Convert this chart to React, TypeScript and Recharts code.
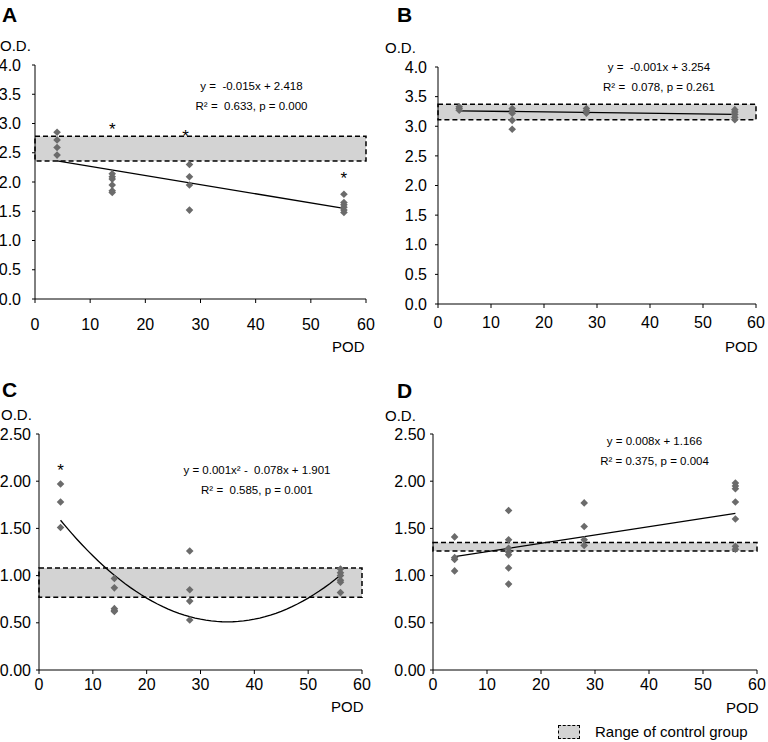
import { ScatterChart, Scatter, XAxis, YAxis, ReferenceArea } from "recharts";

// days post-operation where samples were taken
const POD = [4, 14, 28, 56];
const X_TICKS = [0, 10, 20, 30, 40, 50, 60];

// O.D. readings per sampling day
const A_OD = [
  [2.85, 2.72, 2.59, 2.46],
  [2.14, 2.09, 2.05, 1.95, 1.85, 1.82],
  [2.3, 2.09, 1.95, 1.52],
  [1.79, 1.65, 1.61, 1.57, 1.52, 1.48],
];
const B_OD = [
  [3.33, 3.3, 3.27],
  [3.3, 3.26, 3.22, 3.1, 2.95],
  [3.3, 3.26, 3.22],
  [3.28, 3.24, 3.2, 3.15, 3.11],
];
const C_OD = [
  [1.97, 1.78, 1.51],
  [0.97, 0.87, 0.65, 0.63, 0.62],
  [1.26, 0.85, 0.73, 0.53],
  [1.07, 1.03, 1.0, 0.95, 0.93, 0.82],
];
const D_OD = [
  [1.41, 1.19, 1.17, 1.05],
  [1.69, 1.38, 1.29, 1.25, 1.22, 1.08, 0.91],
  [1.77, 1.52, 1.38, 1.32],
  [1.98, 1.95, 1.92, 1.78, 1.6, 1.31, 1.28],
];

// control group range [low, high]
const A_RANGE = [2.36, 2.78];
const B_RANGE = [3.11, 3.37];
const C_RANGE = [0.77, 1.08];
const D_RANGE = [1.26, 1.35];

// trend lines (end points as drawn)
const A_FIT = [[4, 2.36], [56, 1.55]];
const B_FIT = [[4, 3.26], [56, 3.2]];
const D_FIT = [[4, 1.2], [56, 1.66]];
// polynomial trend for C: a, b, c
const C_POLY = [0.00112, -0.0784, 1.882];

// significance marks
const A_STARS = [[14, 2.96], [27.3, 2.83], [56, 2.12]];
const C_STARS = [[4, 2.15]];

const A_EQ = ["y =  -0.015x + 2.418", "R² =  0.633, p = 0.000"];
const B_EQ = ["y =  -0.001x + 3.254", "R² =  0.078, p = 0.261"];
const C_EQ = ["y = 0.001x² -  0.078x + 1.901", "R² =  0.585, p = 0.001"];
const D_EQ = ["y = 0.008x + 1.166", "R² = 0.375, p = 0.004"];

type Pt = { x: number; y: number };

const FONT = '"Liberation Sans", Arial, sans-serif';

const toPoints = (groups: number[][]): Pt[] =>
  groups.flatMap((g, i) => g.map((y) => ({ x: POD[i], y })));
const pairs = (arr: number[][]): Pt[] => arr.map(([x, y]) => ({ x, y }));

const polyCurve = (): Pt[] => {
  const [a, b, c] = C_POLY;
  const out: Pt[] = [];
  for (let x = 4; x <= 56; x += 1) out.push({ x, y: a * x * x + b * x + c });
  return out;
};

const Diamond = (props: any) => {
  const { cx, cy } = props;
  const r = 3.8;
  return (
    <polygon
      points={`${cx},${cy - r} ${cx + r},${cy} ${cx},${cy + r} ${cx - r},${cy}`}
      fill="#6b6b6b"
    />
  );
};

const NoDot = () => <g />;

const Star = (props: any) => (
  <text x={props.cx} y={props.cy + 9} textAnchor="middle" fontSize={17} fill="#000">
    *
  </text>
);

type PanelProps = {
  left: number;
  top: number;
  width: number;
  height: number;
  margin: { top: number; right: number; bottom: number; left: number };
  yWidth: number;
  yTicks: number[];
  digits: number;
  xGap: number;
  yGap: number;
  points: Pt[];
  range: number[];
  fit: Pt[];
  stars?: Pt[];
};

const Panel = (p: PanelProps) => (
  <div style={{ position: "absolute", left: p.left, top: p.top }}>
    <ScatterChart width={p.width} height={p.height} margin={p.margin}>
      <XAxis
        type="number"
        dataKey="x"
        domain={[0, 60]}
        ticks={X_TICKS}
        interval={0}
        height={30}
        tickSize={4}
        tickMargin={p.xGap}
        stroke="#000"
        tick={{ fill: "#000", fontSize: 16 }}
        allowDataOverflow
      />
      <YAxis
        type="number"
        dataKey="y"
        domain={[0, p.yTicks[p.yTicks.length - 1]]}
        ticks={p.yTicks}
        interval={0}
        width={p.yWidth}
        tickSize={3}
        tickMargin={p.yGap}
        stroke="#000"
        tick={{ fill: "#000", fontSize: 16 }}
        tickFormatter={(v: number) => v.toFixed(p.digits)}
        allowDataOverflow
      />
      <ReferenceArea
        x1={0}
        x2={60}
        y1={p.range[0]}
        y2={p.range[1]}
        fill="#d3d3d3"
        fillOpacity={1}
        stroke="#000"
        strokeWidth={1.5}
        strokeDasharray="5 3"
      />
      <Scatter
        data={p.fit}
        line={{ stroke: "#000", strokeWidth: 1.3 }}
        lineType="joint"
        shape={NoDot}
        isAnimationActive={false}
      />
      <Scatter data={p.points} shape={Diamond} isAnimationActive={false} />
      {p.stars && <Scatter data={p.stars} shape={Star} isAnimationActive={false} />}
    </ScatterChart>
  </div>
);

const Txt = ({ x, y, children, size = 15, bold = false, align = "left" }: any) => (
  <div
    style={{
      position: "absolute",
      left: align === "center" ? x - 150 : x,
      top: y,
      width: align === "center" ? 300 : undefined,
      textAlign: align,
      fontSize: size,
      fontWeight: bold ? "bold" : "normal",
      lineHeight: 1,
      whiteSpace: "pre",
    }}
  >
    {children}
  </div>
);

const Equation = ({ cx, y1, y2, lines }: { cx: number; y1: number; y2: number; lines: string[] }) => (
  <>
    <Txt x={cx} y={y1 - 6.5} size={11.5} align="center">
      {lines[0]}
    </Txt>
    <Txt x={cx} y={y2 - 6.5} size={11.5} align="center">
      {lines[1]}
    </Txt>
  </>
);

const ODA_TICKS = [0, 0.5, 1, 1.5, 2, 2.5, 3, 3.5, 4];
const ODC_TICKS = [0, 0.5, 1, 1.5, 2, 2.5];

export default function App() {
  return (
    <div
      style={{
        position: "absolute",
        left: 0,
        top: 0,
        width: 768,
        height: 742,
        background: "#fff",
        fontFamily: FONT,
        color: "#000",
      }}
    >
      <Panel
        left={0}
        top={0}
        width={380}
        height={340}
        margin={{ top: 65, right: 14, bottom: 11, left: 0 }}
        yWidth={35}
        yTicks={ODA_TICKS}
        digits={1}
        xGap={15.5}
        yGap={11}
        points={toPoints(A_OD)}
        range={A_RANGE}
        fit={pairs(A_FIT)}
        stars={pairs(A_STARS)}
      />
      <Panel
        left={384}
        top={0}
        width={384}
        height={340}
        margin={{ top: 67, right: 12, bottom: 6, left: 0 }}
        yWidth={54}
        yTicks={ODA_TICKS}
        digits={1}
        xGap={9}
        yGap={8}
        points={toPoints(B_OD)}
        range={B_RANGE}
        fit={pairs(B_FIT)}
      />
      <Panel
        left={0}
        top={340}
        width={380}
        height={370}
        margin={{ top: 94, right: 18, bottom: 10, left: 0 }}
        yWidth={39}
        yTicks={ODC_TICKS}
        digits={2}
        xGap={5}
        yGap={5}
        points={toPoints(C_OD)}
        range={C_RANGE}
        fit={polyCurve()}
        stars={pairs(C_STARS)}
      />
      <Panel
        left={384}
        top={340}
        width={384}
        height={370}
        margin={{ top: 94, right: 11, bottom: 10, left: 0 }}
        yWidth={49}
        yTicks={ODC_TICKS}
        digits={2}
        xGap={5}
        yGap={4.5}
        points={toPoints(D_OD)}
        range={D_RANGE}
        fit={pairs(D_FIT)}
      />

      <Txt x={2} y={4} size={21} bold>A</Txt>
      <Txt x={397} y={4} size={21} bold>B</Txt>
      <Txt x={2} y={379} size={21} bold>C</Txt>
      <Txt x={397} y={380} size={21} bold>D</Txt>

      <Txt x={0} y={38}>O.D.</Txt>
      <Txt x={385} y={40}>O.D.</Txt>
      <Txt x={1} y={407}>O.D.</Txt>
      <Txt x={385} y={408}>O.D.</Txt>

      <Txt x={332} y={339}>POD</Txt>
      <Txt x={725} y={339}>POD</Txt>
      <Txt x={331} y={699}>POD</Txt>
      <Txt x={726} y={700}>POD</Txt>

      <Equation cx={251.5} y1={87.3} y2={107.3} lines={A_EQ} />
      <Equation cx={659} y1={68.3} y2={88.3} lines={B_EQ} />
      <Equation cx={257} y1={471.7} y2={491} lines={C_EQ} />
      <Equation cx={654.5} y1={442.3} y2={462.7} lines={D_EQ} />

      <div
        style={{
          position: "absolute",
          left: 558,
          top: 725,
          width: 20,
          height: 12,
          background: "#d3d3d3",
          border: "1.5px dashed #000",
        }}
      />
      <Txt x={595} y={724}>Range of control group</Txt>
    </div>
  );
}
